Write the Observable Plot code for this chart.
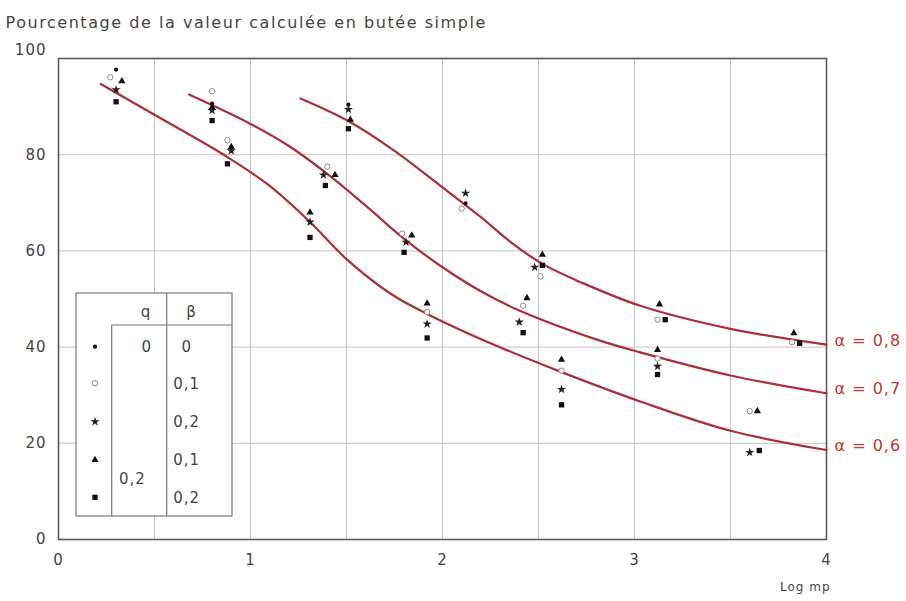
<!DOCTYPE html>
<html>
<head>
<meta charset="utf-8">
<script src="https://cdn.jsdelivr.net/npm/d3@7"></script>
<script src="https://cdn.jsdelivr.net/npm/@observablehq/plot@0.6"></script>
<style>
  html, body { margin: 0; padding: 0; background: #fff; }
  #chart svg { display: block; }
</style>
</head>
<body>
<div id="chart"></div>
<script>
// Texts
const title = "Pourcentage de la valeur calculée en butée simple";
const xLabel = "Log mp";

// Axes and grid
const xTicks = [0, 1, 2, 3, 4];
const yTicks = [0, 20, 40, 60, 80];
const yTopTick = [100];
const xGrid = [0.5, 1, 1.5, 2, 2.5, 3, 3.5];
const yGrid = [20, 40, 60, 80];

// Calculated curves, one per α: [Log mp, %]
const alphaLabels = ["α = 0,6", "α = 0,7", "α = 0,8"];
const curve06 = [[0.22, 94.7], [0.5, 88.3], [0.88, 79.5], [1.1, 73.5], [1.31, 66.0], [1.5, 58.3], [1.73, 51.1], [1.92, 46.9], [2.25, 40.8], [2.62, 34.8], [3.03, 28.7], [3.5, 22.6], [4.0, 18.6]];
const curve07 = [[0.68, 92.5], [1.0, 86.4], [1.2, 81.8], [1.4, 76.0], [1.6, 69.4], [1.8, 62.5], [2.0, 56.6], [2.2, 51.6], [2.4, 47.6], [2.8, 41.6], [3.03, 38.9], [3.5, 34.1], [4.0, 30.4]];
const curve08 = [[1.26, 91.7], [1.5, 87.2], [1.75, 80.8], [2.0, 73.2], [2.2, 67.0], [2.35, 62.0], [2.52, 57.3], [2.72, 53.5], [3.03, 48.6], [3.5, 43.8], [4.0, 40.5]];

// Measured points per (q, β) series: [Log mp, %]
const ptsQ0B0 = [[0.30, 97.7], [0.80, 90.6], [1.51, 90.4], [2.12, 69.9]];
const ptsQ0B01 = [[0.27, 96.1], [0.80, 93.2], [0.88, 83.0], [1.40, 77.5], [1.79, 63.6], [1.92, 47.3], [2.10, 68.8], [2.42, 48.6], [2.51, 54.7], [2.62, 35.1], [3.12, 45.7], [3.12, 37.6], [3.60, 26.7], [3.82, 41.0]];
const ptsQ0B02 = [[0.30, 93.5], [0.80, 89.2], [0.90, 80.8], [1.31, 66.0], [1.38, 75.8], [1.51, 89.4], [1.81, 61.8], [1.92, 44.8], [2.12, 72.0], [2.40, 45.2], [2.48, 56.6], [2.62, 31.2], [3.12, 36.0], [3.60, 18.1]];
const ptsQ02B01 = [[0.33, 95.3], [0.80, 89.8], [0.90, 81.6], [1.31, 68.0], [1.44, 75.8], [1.52, 87.3], [1.84, 63.2], [1.92, 49.1], [2.44, 50.2], [2.52, 59.2], [2.62, 37.4], [3.13, 48.9], [3.12, 39.4], [3.64, 26.7], [3.83, 42.9]];
const ptsQ02B02 = [[0.30, 91.0], [0.80, 87.1], [0.88, 78.1], [1.31, 62.8], [1.39, 73.6], [1.51, 85.4], [1.80, 59.7], [1.92, 41.9], [2.42, 43.0], [2.52, 57.0], [2.62, 28.0], [3.16, 45.7], [3.12, 34.3], [3.65, 18.5], [3.86, 40.8]];

// Legend table rows
const legendQ = ["0", "", "", "", ""];
const legendQ02 = "0,2";
const legendBeta = ["0", "0,1", "0,2", "0,1", "0,2"];

const curves = [curve06, curve07, curve08];
const curveRows = curves.flatMap((c, i) => c.map(([x, y]) => ({x, y, alpha: alphaLabels[i]})));
const curveEnds = curves.map((c, i) => ({x: c[c.length - 1][0], y: c[c.length - 1][1], label: alphaLabels[i]}));
const toRows = (arr) => arr.map(([x, y]) => ({x, y}));

const ink = "#111";
const red = "#a8232b";
const textColor = "#444";
const font = "DejaVu Sans";

const styles = [
  {symbol: "circle", r: 2.1, fill: ink, stroke: "none"},
  {symbol: "circle", r: 2.7, fill: "#fff", stroke: "#8a8a8a"},
  {symbol: "star", r: 2.9, fill: "#222", stroke: "none"},
  {symbol: "triangle", r: 2.7, fill: ink, stroke: "none"},
  {symbol: "square", r: 3.0, fill: ink, stroke: "none"}
];
const series = [ptsQ0B0, ptsQ0B01, ptsQ0B02, ptsQ02B01, ptsQ02B02];

const chart = Plot.plot({
  width: 906,
  height: 601,
  marginLeft: 58,
  marginRight: 80,
  marginTop: 58,
  marginBottom: 62,
  style: {fontFamily: font, fontSize: "15px", color: textColor, background: "#fff", letterSpacing: "1px"},
  x: {domain: [0, 4], axis: null},
  y: {domain: [0, 100], axis: null},
  marks: [
    Plot.ruleX(xGrid, {stroke: "#c4c4c4", strokeWidth: 1}),
    Plot.ruleY(yGrid, {stroke: "#c4c4c4", strokeWidth: 1}),
    Plot.frame({stroke: "#5a5a5a", strokeWidth: 1.6}),
    // tick labels
    Plot.text(xTicks, {x: d => d, frameAnchor: "bottom", dy: 25, text: d => String(d), fontSize: 15, fill: textColor}),
    Plot.text(yTicks, {y: d => d, frameAnchor: "left", dx: -12, textAnchor: "end", text: d => String(d), fontSize: 15, fill: textColor}),
    Plot.text(yTopTick, {y: d => d, frameAnchor: "left", dx: -12, dy: -8, textAnchor: "end", text: d => String(d), fontSize: 15, fill: textColor}),
    Plot.line(curveRows, {x: "x", y: "y", z: "alpha", curve: "catmull-rom", stroke: red, strokeWidth: 2.2, strokeOpacity: 0.95}),
    ...series.map((pts, i) => Plot.dot(toRows(pts), {x: "x", y: "y", ...styles[i], strokeWidth: 1})),
    Plot.text(curveEnds, {x: "x", y: "y", text: "label", dx: 8, dy: -4, textAnchor: "start", fill: "#c8332d", fontSize: 16}),
    Plot.text([title], {frameAnchor: "top-left", dx: -53, dy: -42, textAnchor: "start", fontSize: 16, fill: textColor}),
    Plot.text([xLabel], {frameAnchor: "bottom-right", dx: 4, dy: 51, textAnchor: "end", fontSize: 12, fill: textColor})
  ]
});

// Wider tracking for the title line
d3.select(chart).selectAll("text").filter(function() { return this.textContent === title; })
  .style("letter-spacing", "1.55px");

// Legend table: symbol, q and β columns, drawn over the lower-left of the frame
const xs = chart.scale("x"), ys = chart.scale("y");
const lx = xs.apply(0) + 18, ly = ys.apply(100) + 235;
const W = 156, H = 223, c1 = 35.7, c2 = 90.7, hdr = 32;
const rowsY = [53.7, 90.3, 128.7, 167, 204.3];
const g = d3.select(chart).append("g").attr("transform", `translate(${lx},${ly})`)
  .attr("font-family", font).attr("font-size", 15).attr("fill", textColor);
g.append("rect").attr("width", W).attr("height", H).attr("fill", "#fff").attr("stroke", "#7a7a7a").attr("stroke-width", 1.2);
g.append("line").attr("x1", c1).attr("x2", W).attr("y1", hdr).attr("y2", hdr).attr("stroke", "#7a7a7a").attr("stroke-width", 1.2);
g.append("line").attr("x1", c1).attr("x2", c1).attr("y1", hdr).attr("y2", H).attr("stroke", "#7a7a7a").attr("stroke-width", 1.2);
g.append("line").attr("x1", c2).attr("x2", c2).attr("y1", 0).attr("y2", H).attr("stroke", "#7a7a7a").attr("stroke-width", 1.2);
g.append("text").attr("x", 70).attr("y", 18.7).attr("text-anchor", "middle").attr("dy", "0.35em").text("q");
g.append("text").attr("x", 115.5).attr("y", 18.7).attr("text-anchor", "middle").attr("dy", "0.35em").text("β");
const symbolTypes = {circle: d3.symbolCircle, star: d3.symbolStar, triangle: d3.symbolTriangle, square: d3.symbolSquare};
styles.forEach((s, i) => {
  g.append("path")
    .attr("transform", `translate(19,${rowsY[i]})`)
    .attr("d", d3.symbol(symbolTypes[s.symbol], Math.PI * s.r * s.r)())
    .attr("fill", s.fill).attr("stroke", s.stroke);
  if (legendQ[i]) g.append("text").attr("x", 70.7).attr("y", rowsY[i]).attr("dy", "0.35em").attr("text-anchor", "middle").text(legendQ[i]);
  g.append("text").attr("x", 110.7).attr("y", rowsY[i]).attr("dy", "0.35em").text(legendBeta[i]);
});
g.append("text").attr("x", 56.5).attr("y", (rowsY[3] + rowsY[4]) / 2).attr("dy", "0.35em").attr("text-anchor", "middle").text(legendQ02);

document.getElementById("chart").append(chart);
</script>
</body>
</html>
